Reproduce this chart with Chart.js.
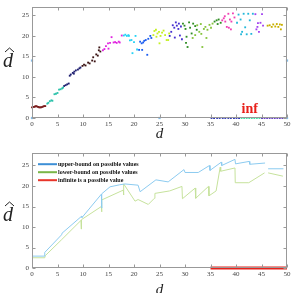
<!DOCTYPE html>
<html>
<head>
<meta charset="utf-8">
<script src="https://cdn.jsdelivr.net/npm/chart.js@4/dist/chart.umd.min.js"></script>
<style>
  body { margin: 0; background: #fff; }
  #top, #bottom { position: absolute; left: 0; }
  #top { top: 0; }
  #bottom { top: 146px; }
</style>
</head>
<body>
<canvas id="top" width="293" height="146"></canvas>
<canvas id="bottom" width="293" height="147"></canvas>
<script>
// tick values
const xTicks = [0, 5, 10, 15, 20, 25, 30, 35, 40, 45, 50];
const yTicks = [0, 5, 10, 15, 20, 25];

// top plot: estimated d-hat per group, [d, dhat]
const redPts = [[0, 2.6], [0.2, 2.7], [0.4, 2.7], [0.6, 2.8], [0.8, 2.9], [1.0, 2.8], [1.2, 2.7], [1.4, 2.6], [1.6, 2.6], [1.8, 2.6], [2.0, 2.7], [2.2, 2.8], [2.4, 2.9], [2.6, 2.9]];
const tealPts = [[3.0, 3.5], [3.2, 3.7], [3.5, 4.1], [3.8, 4.3], [4.0, 4.2], [4.4, 5.8], [4.7, 5.9], [5.0, 6.1], [5.3, 6.9], [5.6, 7.0], [5.9, 7.2], [6.1, 7.4]];
const navyPts = [[6.3, 7.8], [6.6, 8.0], [6.9, 8.2], [7.2, 8.4], [7.4, 10.3], [7.6, 10.6], [8.0, 11.0], [8.2, 10.8], [8.3, 11.3], [8.6, 11.6], [9.0, 11.8], [9.3, 12.1], [9.5, 12.3]];
const brownPts = [[9.9, 12.7], [10.2, 13.0], [10.5, 12.8], [11.0, 13.5], [11.3, 13.3], [11.8, 14.0], [12.0, 14.8], [12.3, 13.8], [12.6, 15.5], [12.9, 15.2], [13.1, 16.5], [13.2, 17.2], [13.4, 16.2]];
const magentaPts = [[13.9, 16.5], [14.2, 16.8], [14.5, 17.5], [14.9, 18.2], [15.0, 16.9], [15.3, 18.3], [15.6, 19.7], [16.0, 18.4], [16.3, 18.5], [16.6, 18.3], [17.0, 18.6], [17.2, 18.4], [17.6, 20.1]];
const cyanPts = [[18.0, 20.1], [18.3, 20.3], [18.6, 20.0], [18.9, 20.2], [19.0, 20.0], [19.2, 18.9], [19.5, 19.0], [19.7, 15.8], [20.0, 18.5], [20.3, 20.0], [20.6, 16.7]];
const bluePts = [[21.0, 16.6], [21.2, 18.6], [21.5, 18.2], [21.6, 16.6], [21.8, 18.4], [22.0, 18.8], [22.3, 19.0], [22.6, 15.4], [22.8, 19.3], [23.2, 20.0], [23.4, 19.5]];
const limePts = [[23.8, 20.2], [24.0, 21.2], [24.3, 21.5], [24.4, 19.8], [24.6, 20.6], [24.9, 21.0], [25.0, 18.2], [25.2, 20.0], [25.5, 20.8], [25.8, 21.3], [26.1, 20.2], [26.4, 19.0], [26.7, 19.0], [26.9, 20.6]];
const violetPts = [[27.0, 20.0], [27.3, 21.0], [27.6, 22.6], [27.9, 22.0], [28.0, 19.6], [28.2, 23.3], [28.4, 22.5], [28.7, 21.7], [28.8, 23.0], [29.0, 20.1], [29.2, 22.3], [29.4, 19.2]];
const greenPts = [[29.6, 23.0], [29.9, 22.5], [30.1, 21.7], [30.2, 18.3], [30.3, 19.8], [30.5, 17.3], [30.8, 23.3], [31.0, 22.0], [31.3, 20.6], [31.6, 23.0], [32.0, 22.4], [32.3, 21.5], [35.8, 23.5], [36.2, 23.8], [36.4, 22.9], [36.6, 24.0], [37.0, 23.2]];
const lightGreenPts = [[31.5, 19.5], [32.0, 20.2], [32.4, 22.6], [32.8, 21.0], [33.1, 22.9], [33.2, 20.5], [33.4, 17.3], [33.7, 21.7], [34.0, 22.2], [34.2, 19.5], [34.4, 21.5], [34.8, 22.7], [35.1, 22.0], [35.4, 23.0]];
const pinkPts = [[37.3, 23.8], [37.6, 24.3], [37.8, 24.8], [37.9, 23.5], [38.2, 22.2], [38.5, 25.4], [38.6, 22.0], [38.8, 24.0], [39.0, 21.6], [39.1, 23.5], [39.4, 25.5], [39.7, 24.5]];
const cyan2Pts = [[40.2, 23.2], [40.5, 25.2], [40.9, 24.0], [41.0, 20.4], [41.2, 21.0], [41.5, 25.4], [41.8, 22.1], [42.1, 20.4], [42.4, 25.4], [42.7, 23.8], [43.0, 20.5], [43.3, 25.4]];
const purplePts = [[43.8, 25.3], [44.0, 21.6], [44.2, 22.2], [44.3, 23.1], [44.5, 21.0], [44.8, 23.2], [45.1, 25.3], [45.3, 22.5]];
const olivePts = [[46.2, 22.5], [46.6, 22.6], [47.0, 22.2], [47.3, 22.8], [47.7, 22.3], [48.0, 22.9], [48.3, 22.2], [48.6, 22.8], [48.8, 21.6], [49.0, 22.7]];
// infinite estimates drawn on the axis
const zeroBluePts = [[35.2, 0], [35.7, 0], [36.3, 0], [36.8, 0], [37.4, 0], [37.9, 0], [38.5, 0], [39.0, 0], [39.6, 0], [40.1, 0], [40.6, 0]];
const zeroGreenPts = [[41.1, 0], [41.6, 0], [42.1, 0], [42.6, 0], [43.1, 0], [43.6, 0], [44.1, 0], [44.6, 0]];
const zeroPurplePts = [[45.1, 0], [45.6, 0], [46.1, 0], [46.6, 0], [47.1, 0], [47.6, 0], [48.1, 0], [48.6, 0], [49.1, 0]];
const markerPts = [[0, 0], [0, 14], [25, 0], [50, 0], [50, 14]];

// bottom plot: bounds, null = gap
const upperX = [0, 2.5, 2.5, 5.8, 5.9, 9.7, 9.8, 13.6, 13.65, 13.7, 15.3, 17.2, 18.2, 20.8, 21.2, 24.3, 26.7, 29.8, 30.0, 32.6, 34.8, 34.9, 37.1, 37.2, 39.8, 39.9, 42.6, 42.7, 45.7, 46.0, 46.3, 49.3];
const upperY = [2.9, 2.9, 3.8, 8.1, 8.5, 12.6, 12.3, 18.0, 14.6, 18.1, 19.8, 20.3, 20.5, 20.2, 18.6, 21.5, 21.0, 24.0, 23.3, 23.3, 25.0, 23.8, 25.8, 25.0, 26.5, 25.4, 26.0, 25.3, 25.6, null, 24.2, 24.2];
const lowerX = [0, 0, 2.5, 2.6, 5.8, 9.6, 9.65, 9.7, 13.6, 13.65, 13.7, 17.9, 17.95, 18.0, 20.2, 20.8, 22.8, 24.0, 24.1, 27.0, 29.4, 29.5, 32.0, 32.1, 34.6, 34.7, 36.1, 36.9, 37.0, 39.8, 39.85, 42.5, 45.6, 46.0, 46.3, 49.2];
const lowerY = [0, 2.5, 2.5, 3.0, 6.9, 11.6, 9.5, 11.8, 15.0, 13.7, 16.6, 19.0, 17.8, 20.5, 16.3, 16.7, 15.5, 17.0, 18.2, 18.8, 19.9, 16.9, 19.5, 17.0, 19.9, 17.6, 18.8, 24.6, 23.6, 24.4, 20.8, 20.8, 23.2, null, 23.2, 22.4];
const infX = [35, 50];
const infY = [0, 0];
const legendLabels = ["upper-bound on possible values", "lower-bound on possible values", "infinite is a possible value"];

const serif = '"Liberation Serif", "Times New Roman", serif';
const toXY = pts => pts.map(p => ({ x: p[0], y: p[1] }));
const zip = (xs, ys) => xs.map((x, i) => ({ x, y: ys[i] }));

// MATLAB style box, inward ticks, axis titles, inside legend
const frame = {
  id: "frame",
  afterDraw(chart, args, opts) {
    const ctx = chart.ctx;
    const a = chart.chartArea;
    const sx = chart.scales.x, sy = chart.scales.y;
    ctx.save();
    ctx.strokeStyle = "#999";
    ctx.lineWidth = 1;
    const l = Math.round(a.left) + 0.5, r = Math.round(a.right) - 0.5;
    const t = Math.round(a.top) + 0.5, b = Math.round(a.bottom) - 0.5;
    ctx.strokeRect(l, t, r - l, b - t);
    ctx.beginPath();
    for (let v of xTicks) {
      let px = Math.round(sx.getPixelForValue(v)) + 0.5;
      ctx.moveTo(px, b); ctx.lineTo(px, b - 3);
      ctx.moveTo(px, t); ctx.lineTo(px, t + 3);
    }
    for (let v of yTicks) {
      let py = Math.round(sy.getPixelForValue(v)) + 0.5;
      ctx.moveTo(l, py); ctx.lineTo(l + 3, py);
      ctx.moveTo(r, py); ctx.lineTo(r - 3, py);
    }
    ctx.stroke();

    ctx.fillStyle = "#222";
    ctx.textAlign = "center";
    ctx.textBaseline = "alphabetic";
    ctx.font = "italic 15px " + serif;
    ctx.fillText("d", (a.left + a.right) / 2, opts.xTitleY);

    // d-hat on the left, upright
    ctx.font = "italic 20px " + serif;
    ctx.fillText("d", 8, opts.yTitleY);
    ctx.strokeStyle = "#222";
    ctx.beginPath();
    ctx.moveTo(5, opts.yTitleY - 15);
    ctx.lineTo(9.5, opts.yTitleY - 19);
    ctx.lineTo(14, opts.yTitleY - 15);
    ctx.stroke();

    if (opts.note) {
      ctx.fillStyle = "#e8201a";
      ctx.font = "bold 14px " + serif;
      ctx.fillText(opts.note.text, sx.getPixelForValue(opts.note.x), sy.getPixelForValue(opts.note.y));
    }

    if (opts.legend) {
      ctx.textAlign = "left";
      ctx.textBaseline = "middle";
      ctx.font = "bold 6px " + serif;
      chart.data.datasets.forEach((d, i) => {
        let y = a.top + 11 + i * 8;
        ctx.fillStyle = opts.legend[i];
        ctx.fillRect(a.left + 6, y - 1, 19, 2);
        ctx.fillStyle = "#111";
        ctx.fillText(d.label, a.left + 26, y);
      });
    }
    ctx.restore();
  }
};

function axes(yMax, xHeight) {
  const tickFont = { family: serif, size: 7 };
  return {
    x: {
      type: "linear", min: 0, max: 50,
      grid: { display: false, drawTicks: false },
      border: { display: false },
      ticks: { stepSize: 5, font: tickFont, color: "#444", padding: 2, maxRotation: 0, includeBounds: false },
      afterFit(s) { s.height = xHeight; }
    },
    y: {
      min: 0, max: yMax,
      grid: { display: false, drawTicks: false },
      border: { display: false },
      ticks: { stepSize: 5, font: tickFont, color: "#444", padding: 3, includeBounds: false },
      afterFit(s) { s.width = 32; }
    }
  };
}

function scatterSet(pts, color, r) {
  return { data: toXY(pts), backgroundColor: color, borderWidth: 0, pointRadius: r || 1.3, pointStyle: "rect", clip: false };
}

new Chart(document.getElementById("top"), {
  type: "scatter",
  data: {
    datasets: [
      scatterSet(redPts, "#7b1e1e"),
      scatterSet(tealPts, "#2cc2aa"),
      scatterSet(navyPts, "#1f1f70"),
      scatterSet(brownPts, "#3a1212"),
      scatterSet(magentaPts, "#e025e0"),
      scatterSet(cyanPts, "#25d2f5"),
      scatterSet(bluePts, "#1a5cf0"),
      scatterSet(limePts, "#c4f022"),
      scatterSet(violetPts, "#4630d0"),
      scatterSet(greenPts, "#2e8c22"),
      scatterSet(lightGreenPts, "#86c43c"),
      scatterSet(pinkPts, "#f040b4"),
      scatterSet(cyan2Pts, "#22b8da"),
      scatterSet(purplePts, "#a242f0"),
      scatterSet(olivePts, "#c8b000"),
      scatterSet(zeroBluePts, "#2830b0"),
      scatterSet(zeroGreenPts, "#30e0a0"),
      scatterSet(zeroPurplePts, "#5a30c0"),
      scatterSet(markerPts, "#86bde8", 1.6)
    ]
  },
  options: {
    responsive: false,
    animation: false,
    devicePixelRatio: 1,
    layout: { padding: { top: 1, right: 6, left: 0, bottom: 0 } },
    scales: axes(27, 28),
    plugins: {
      legend: { display: false },
      tooltip: { enabled: false },
      frame: { xTitleY: 138, yTitleY: 67, note: { text: "inf", x: 42.7, y: 1.15 } }
    }
  },
  plugins: [frame]
});

new Chart(document.getElementById("bottom"), {
  type: "line",
  data: {
    datasets: [
      { label: legendLabels[0], data: zip(upperX, upperY), borderColor: "#8ccbf0", borderWidth: 1, pointRadius: 0, spanGaps: false, tension: 0 },
      { label: legendLabels[1], data: zip(lowerX, lowerY), borderColor: "#c6e29c", borderWidth: 1, pointRadius: 0, spanGaps: false, tension: 0 },
      { label: legendLabels[2], data: zip(infX, infY), borderColor: "#e8221a", borderWidth: 3, pointRadius: 0, clip: 4 }
    ]
  },
  options: {
    responsive: false,
    animation: false,
    devicePixelRatio: 1,
    layout: { padding: { top: 3, right: 6, left: 0, bottom: 0 } },
    scales: axes(28, 25),
    plugins: {
      tooltip: { enabled: false },
      legend: { display: false },
      frame: { xTitleY: 148, yTitleY: 75, legend: ["#3d8fd6", "#7ab648", "#e8352a"] }
    }
  },
  plugins: [frame]
});
</script>
</body>
</html>
